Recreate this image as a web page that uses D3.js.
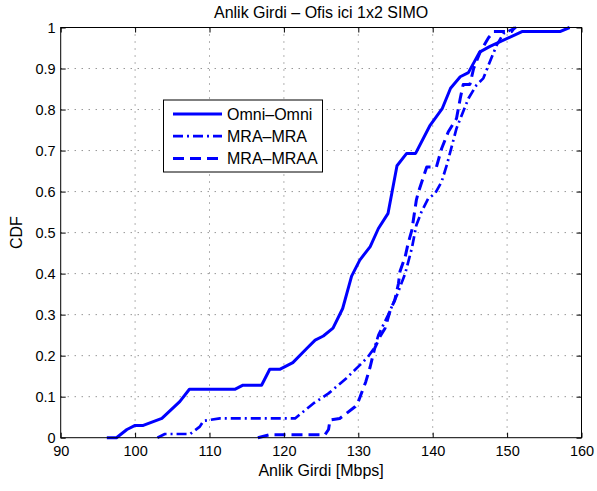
<!DOCTYPE html>
<html><head><meta charset="utf-8">
<script src="https://cdn.jsdelivr.net/npm/d3@7"></script>
<style>
body{margin:0;background:#fff;}
svg text{font-family:"Liberation Sans",Arial,sans-serif;fill:#000;}
</style></head>
<body><svg id="c" width="597" height="491"></svg>
<script>
const xTicks=[90,100,110,120,130,140,150,160];
const yTicks=[0,0.1,0.2,0.3,0.4,0.5,0.6,0.7,0.8,0.9,1];
const seriesNames=["Omni\u2013Omni","MRA\u2013MRA","MRA\u2013MRAA"];
const omniOmni=[[96.2,0],[97.5,0],[98.9,0.02],[100,0.03],[101.1,0.03],[103.6,0.047],[106,0.088],[107.3,0.118],[113.4,0.118],[114.5,0.128],[117,0.128],[118.1,0.167],[119.5,0.167],[121.2,0.183],[123.1,0.218],[124.2,0.238],[125.3,0.248],[126.6,0.267],[127.9,0.315],[129.1,0.394],[130.2,0.433],[131.6,0.466],[132.7,0.51],[134,0.547],[135.2,0.663],[136.5,0.693],[137.7,0.693],[139.6,0.76],[141.3,0.803],[142.4,0.852],[143.7,0.88],[144.8,0.89],[146.3,0.94],[147.7,0.954],[152,0.99],[157.1,0.99],[158.4,1]];
const mraMra=[[103,0],[104,0.009],[107.4,0.009],[108.7,0.027],[109.2,0.041],[111.4,0.047],[121.5,0.047],[124,0.084],[126,0.108],[128.4,0.145],[130.2,0.177],[131.3,0.197],[132.2,0.22],[132.7,0.25],[134,0.299],[135.2,0.348],[136.3,0.4],[137.2,0.462],[137.8,0.518],[138.5,0.551],[139.4,0.583],[140.3,0.595],[141.2,0.624],[141.9,0.665],[142.6,0.713],[143.2,0.754],[143.9,0.786],[144.8,0.827],[145.9,0.86],[146.8,0.876],[147.5,0.908],[148.6,0.957],[149.5,0.985],[150.4,0.993],[151.2,1]];
const mraMraa=[[116.5,0],[118,0.007],[125.5,0.007],[126,0.02],[126.2,0.043],[127.5,0.047],[128.4,0.059],[129.6,0.076],[130,0.088],[130.5,0.112],[131,0.136],[131.6,0.173],[132.2,0.218],[132.9,0.246],[133.6,0.267],[134.3,0.311],[134.9,0.335],[135.4,0.376],[135.6,0.405],[136.3,0.441],[136.7,0.474],[137.2,0.506],[137.6,0.555],[137.8,0.579],[138.1,0.6],[139.2,0.66],[140.5,0.66],[141.2,0.705],[142.1,0.746],[143.2,0.778],[143.7,0.827],[144.1,0.861],[145,0.861],[145.5,0.9],[146.4,0.941],[147.5,0.975],[148.2,0.99],[150.6,0.99],[151,1]];

const L=60.7,R=581.5,T=27.5,B=437.7;
const x=d3.scaleLinear().domain([90,160]).range([L,R]);
const y=d3.scaleLinear().domain([0,1]).range([B,T]);
const svg=d3.select("#c");

// grid
const g=svg.append("g");
g.selectAll(".gx").data(xTicks.slice(1,-1)).join("line")
 .attr("x1",d=>x(d)).attr("x2",d=>x(d)).attr("y1",T).attr("y2",B)
 .attr("stroke","#666").attr("stroke-width",1).attr("stroke-dasharray","1,6");
g.selectAll(".gy").data(yTicks.slice(1,-1)).join("line")
 .attr("x1",L).attr("x2",R).attr("y1",d=>y(d)).attr("y2",d=>y(d))
 .attr("stroke","#666").attr("stroke-width",1).attr("stroke-dasharray","1,6");

// lines
const line=d3.line().x(d=>x(d[0])).y(d=>y(d[1]));
const styles=[{data:omniOmni,dash:null,w:3},{data:mraMra,dash:"10,4,2,4",w:2.7},{data:mraMraa,dash:"11,6",w:3}];
styles.forEach(s=>{
 svg.append("path").attr("d",line(s.data)).attr("fill","none").attr("stroke","#0000ff")
  .attr("stroke-width",s.w).attr("stroke-dasharray",s.dash).attr("stroke-linejoin","round");
});

// axes
const fmtY=d=>d===0?"0":d===1?"1":d3.format(".1f")(d);
const ax=svg.append("g").attr("transform",`translate(0,${B})`)
 .call(d3.axisBottom(x).tickValues(xTicks).tickSize(-5).tickPadding(8).tickSizeOuter(0));
const ay=svg.append("g").attr("transform",`translate(${L},0)`)
 .call(d3.axisLeft(y).tickValues(yTicks).tickFormat(fmtY).tickSize(-5).tickPadding(5).tickSizeOuter(0));
const at=svg.append("g").attr("transform",`translate(0,${T})`)
 .call(d3.axisTop(x).tickValues(xTicks).tickSize(-5).tickFormat("").tickSizeOuter(0));
const ar=svg.append("g").attr("transform",`translate(${R},0)`)
 .call(d3.axisRight(y).tickValues(yTicks).tickSize(-5).tickFormat("").tickSizeOuter(0));
[ax,ay,at,ar].forEach(a=>{a.select(".domain").remove();a.selectAll("line").attr("stroke","#000");
 a.selectAll("text").attr("font-size",14.5).attr("font-family","Liberation Sans, Arial, sans-serif").attr("fill","#000");});
svg.append("rect").attr("x",L).attr("y",T).attr("width",R-L).attr("height",B-T)
 .attr("fill","none").attr("stroke","#000").attr("stroke-width",1);

// labels
svg.append("text").attr("x",(L+R)/2).attr("y",18).attr("text-anchor","middle").attr("font-size",16)
 .text("Anlik Girdi \u2013 Ofis ici 1x2 SIMO");
svg.append("text").attr("x",(L+R)/2).attr("y",476).attr("text-anchor","middle").attr("font-size",16)
 .text("Anlik Girdi [Mbps]");
svg.append("text").attr("transform",`translate(22,${(T+B)/2}) rotate(-90)`).attr("text-anchor","middle").attr("font-size",16)
 .text("CDF");

// legend
const lg=svg.append("g");
lg.append("rect").attr("x",163.5).attr("y",100).attr("width",159).attr("height",72)
 .attr("fill","#fff").attr("stroke","#000").attr("stroke-width",1);
seriesNames.forEach((n,i)=>{
 const yy=114+i*22.2;
 lg.append("line").attr("x1",173).attr("x2",222).attr("y1",yy).attr("y2",yy)
  .attr("stroke","#0000ff").attr("stroke-width",styles[i].w).attr("stroke-dasharray",styles[i].dash);
 lg.append("text").attr("x",227).attr("y",yy+5.5).attr("font-size",16).text(n);
});
</script></body></html>
